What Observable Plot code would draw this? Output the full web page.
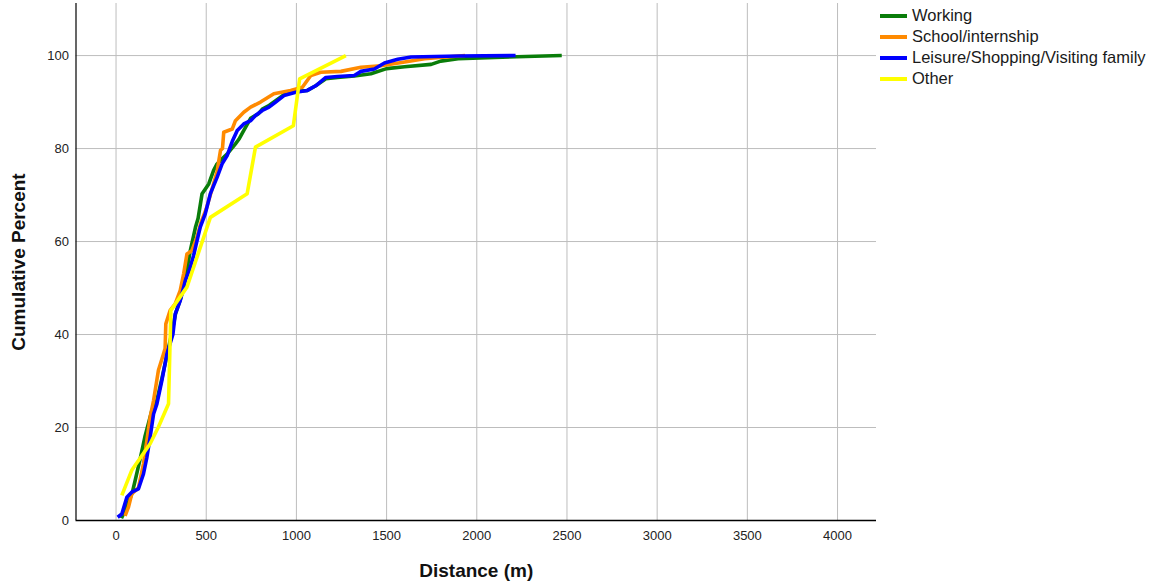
<!DOCTYPE html>
<html>
<head>
<meta charset="utf-8">
<script src="https://cdn.jsdelivr.net/npm/d3@7"></script>
<script src="https://cdn.jsdelivr.net/npm/@observablehq/plot@0.6"></script>
<style>
  html, body { margin: 0; padding: 0; background: #fff; }
  #wrap { position: relative; width: 1154px; height: 584px; font-family: "Liberation Sans", Arial, sans-serif; }
  #legend { position: absolute; left: 880px; top: 5px; font-size: 16.5px; color: #1a1a1a; }
  .row { display: flex; align-items: center; height: 21px; }
  .sw { width: 27px; height: 4px; margin-right: 5px; }
</style>
</head>
<body>
<div id="wrap"><div id="legend"></div></div>
<script>
const categories = ["Working", "School/internship", "Leisure/Shopping/Visiting family", "Other"];
const seriesColors = ["#0a7d0a", "#ff8a00", "#0000ff", "#ffff00"];

const xTicks = [0, 500, 1000, 1500, 2000, 2500, 3000, 3500, 4000];
const yTicks = [0, 20, 40, 60, 80, 100];
const xDomain = [-222, 4216];
const yDomain = [0, 111.2];

const workingDist = [30, 60, 90, 106, 134, 160, 199, 226, 254, 282, 310, 330, 360, 384, 412, 440, 455, 477, 514, 541, 560, 588, 620, 662, 681, 710, 746, 790, 811, 850, 885, 931, 996, 1061, 1107, 1163, 1228, 1321, 1413, 1500, 1600, 1747, 1800, 1896, 2100, 2471];
const workingPct  = [0.5, 3, 6, 8.6, 13.3, 18, 23.7, 25.8, 30.5, 35.5, 40.5, 44.5, 48, 52, 58.1, 63, 65, 70.3, 72.4, 75.3, 76.7, 77.8, 79, 81, 82, 84, 86.5, 87.5, 88.5, 89.3, 90.3, 91.6, 92.3, 92.5, 93.5, 95, 95.3, 95.6, 96.1, 97.2, 97.6, 98.1, 98.8, 99.3, 99.6, 100];

const schoolDist = [50, 69, 87, 124, 152, 171, 189, 208, 235, 263, 272, 276, 300, 328, 356, 375, 393, 420, 449, 470, 500, 530, 560, 579, 590, 597, 644, 662, 708, 746, 801, 875, 968, 1033, 1080, 1135, 1247, 1358, 1469, 1600, 1710, 1935];
const schoolPct  = [1, 2.9, 5.7, 7, 12.2, 17.2, 22.2, 25.8, 32.3, 35.8, 37, 42.3, 45.2, 46.6, 49.5, 53.1, 57.3, 58, 61, 64, 67, 71, 75, 79.6, 80, 83.5, 84.2, 86, 87.8, 88.9, 90, 91.8, 92.5, 93.2, 95.7, 96.4, 96.6, 97.5, 97.8, 98.6, 99.3, 100];

const leisureDist = [9, 32, 60, 87, 124, 152, 171, 189, 208, 226, 254, 282, 315, 328, 356, 384, 408, 430, 449, 467, 495, 523, 560, 588, 616, 644, 672, 708, 746, 773, 811, 848, 885, 931, 996, 1061, 1107, 1163, 1228, 1321, 1358, 1432, 1488, 1562, 1636, 1900, 2215];
const leisurePct  = [0.7, 1.4, 5, 6.1, 6.8, 10, 13.6, 17.9, 22.9, 25, 30.1, 35.8, 40, 44.4, 47.3, 51.6, 54, 57, 60.2, 63.1, 66, 70.3, 73.8, 76.7, 78.5, 81.5, 83.9, 85.3, 86, 87.1, 88.2, 88.9, 90, 91.4, 92.1, 92.5, 93.5, 95.3, 95.5, 95.7, 96.6, 97.1, 98.4, 99.2, 99.7, 99.9, 100];

const otherDist = [32, 87, 189, 235, 291, 304, 393, 523, 727, 773, 983, 1018, 1274];
const otherPct  = [5.4, 10.8, 16.5, 20.1, 25.1, 45.2, 50.2, 65.2, 70.3, 80.3, 84.9, 95, 100];

const seriesDist = [workingDist, schoolDist, leisureDist, otherDist];
const seriesPct = [workingPct, schoolPct, leisurePct, otherPct];
const rows = categories.flatMap((c, i) => seriesDist[i].map((d, j) => ({cat: c, dist: d, pct: seriesPct[i][j]})));

const chart = Plot.plot({
  width: 1154,
  height: 584,
  marginLeft: 75.5,
  marginRight: 278,
  marginTop: 3,
  marginBottom: 64,
  x: {domain: xDomain},
  y: {domain: yDomain},
  color: {domain: categories, range: seriesColors},
  style: {fontFamily: "'Liberation Sans', Arial, sans-serif", fontSize: "13px", color: "#222", background: "transparent"},
  marks: [
    Plot.ruleX(xTicks, {stroke: "#bdbdbd", strokeWidth: 1}),
    Plot.ruleY(yTicks.filter(d => d > 0), {stroke: "#bdbdbd", strokeWidth: 1}),
    Plot.axisX({ticks: xTicks, tickSize: 0, tickPadding: 10, label: null, tickFormat: d => String(d)}),
    Plot.axisY({ticks: yTicks, tickSize: 0, tickPadding: 7, label: null}),
    Plot.ruleX(xDomain.slice(0, 1), {stroke: "#000", strokeWidth: 1.2}),
    Plot.ruleY(yDomain.slice(0, 1), {stroke: "#000", strokeWidth: 1.5}),
    Plot.line(rows, {x: "dist", y: "pct", z: "cat", stroke: "cat", strokeWidth: 3.6, strokeLinejoin: "round", strokeLinecap: "butt"}),
    Plot.text(["Distance (m)"], {frameAnchor: "bottom", text: d => d, dy: 50, fontWeight: "bold", fontSize: 19, lineAnchor: "middle", textAnchor: "middle", fill: "#111"}),
    Plot.text(["Cumulative Percent"], {frameAnchor: "left", text: d => d, dx: -57.5, rotate: -90, fontWeight: "bold", fontSize: 19, lineAnchor: "middle", textAnchor: "middle", fill: "#111"})
  ]
});
const wrap = document.getElementById("wrap");
wrap.insertBefore(chart, wrap.firstChild);

const legend = document.getElementById("legend");
categories.forEach((c, i) => {
  const r = document.createElement("div");
  r.className = "row";
  const s = document.createElement("div");
  s.className = "sw";
  s.style.background = seriesColors[i];
  const t = document.createElement("span");
  t.textContent = c;
  r.appendChild(s);
  r.appendChild(t);
  legend.appendChild(r);
});
</script>
</body>
</html>
